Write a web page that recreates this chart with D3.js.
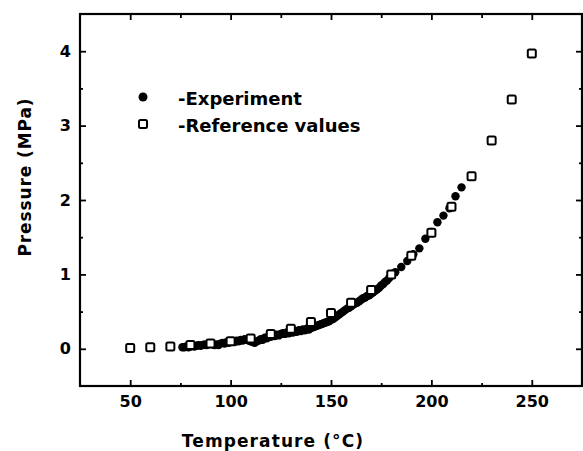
<!DOCTYPE html>
<html>
<head>
<meta charset="utf-8">
<script src="https://cdn.jsdelivr.net/npm/d3@7"></script>
<style>
  html, body { margin: 0; padding: 0; background: #fff; }
  svg { display: block; }
  text { font-family: "DejaVu Sans", sans-serif; font-weight: bold; fill: #000; }
</style>
</head>
<body>
<svg id="chart" width="583" height="451"></svg>
<script>
// ---- data ----
const refTemps = [50, 60, 70, 80, 90, 100, 110, 120, 130, 140, 150, 160, 170, 180, 190, 200, 210, 220, 230, 240, 250];
const refPressures = [0.01, 0.02, 0.03, 0.05, 0.07, 0.10, 0.14, 0.20, 0.27, 0.36, 0.48, 0.62, 0.79, 1.00, 1.25, 1.56, 1.91, 2.32, 2.80, 3.35, 3.97];

const expTemps = [76, 77, 78, 79, 80, 81, 82, 83, 84, 85, 86, 87, 88, 89, 90, 91, 92, 93, 94, 95, 96, 97, 98, 99,
  100, 101, 102, 103, 104, 105, 106, 107, 108, 109, 110, 111, 112, 113, 114, 115, 116, 117, 118, 119,
  120, 121, 122, 123, 124, 125, 126, 127, 128, 129, 130, 131, 132, 133, 134, 135, 136, 137, 138, 139,
  140, 141, 142, 143, 144, 145, 146, 147, 148, 149, 150, 151, 152, 153, 154, 155, 156, 157, 158, 159,
  160, 161, 162, 163, 164, 165, 166, 167, 168, 169, 170, 171, 172, 173, 174, 175, 176, 177, 178, 179,
  182, 185, 188, 191, 194, 197, 200, 203, 206, 209, 212, 215];
const expPressures = [0.02, 0.02, 0.03, 0.02, 0.03, 0.04, 0.03, 0.04, 0.05, 0.04, 0.05, 0.06, 0.05, 0.06, 0.07, 0.06, 0.05, 0.06, 0.05, 0.07, 0.08, 0.07, 0.09, 0.08,
  0.09, 0.10, 0.09, 0.11, 0.10, 0.12, 0.11, 0.13, 0.12, 0.11, 0.10, 0.09, 0.08, 0.10, 0.11, 0.13, 0.12, 0.15, 0.14, 0.17,
  0.16, 0.18, 0.17, 0.19, 0.18, 0.20, 0.21, 0.20, 0.22, 0.21, 0.23, 0.22, 0.24, 0.23, 0.25, 0.24, 0.26, 0.25, 0.27, 0.26,
  0.28, 0.29, 0.30, 0.31, 0.32, 0.33, 0.34, 0.35, 0.36, 0.37, 0.39, 0.40, 0.42, 0.44, 0.46, 0.48, 0.50, 0.52, 0.54, 0.55,
  0.57, 0.59, 0.61, 0.62, 0.64, 0.66, 0.68, 0.69, 0.71, 0.72, 0.74, 0.76, 0.78, 0.80, 0.82, 0.85, 0.87, 0.90, 0.92, 0.95,
  1.03, 1.10, 1.18, 1.27, 1.35, 1.48, 1.57, 1.70, 1.79, 1.89, 2.05, 2.17];

const xMajorTicks = [50, 100, 150, 200, 250];
const xMinorTicks = [75, 125, 175, 225];
const yMajorTicks = [0, 1, 2, 3, 4];
const yMinorTicks = [0.5, 1.5, 2.5, 3.5];

const legendLabels = ["-Experiment", "-Reference values"];
const xTitle = "Temperature (°C)";
const yTitle = "Pressure (MPa)";

// ---- layout ----
const L = 80, R = 582, T = 14, B = 386;
const svg = d3.select("#chart");

const x = d3.scaleLinear().domain([25, 275]).range([L, R]);
const y = d3.scaleLinear().domain([-0.5, 4.5]).range([B, T]);

function styleAxis(g) {
  g.select(".domain").remove();
  g.selectAll(".tick line").attr("stroke", "#000").attr("stroke-width", 1.8);
  g.selectAll(".tick text").style("font-size", "16px").style("font-family", "DejaVu Sans, sans-serif").style("font-weight", "bold").attr("fill", "#000");
}

// bottom
svg.append("g").attr("transform", `translate(0,${B})`)
  .call(d3.axisBottom(x).tickValues(xMajorTicks).tickSize(-6).tickPadding(10).tickFormat(d3.format("d")))
  .call(styleAxis);
svg.append("g").attr("transform", `translate(0,${B})`)
  .call(d3.axisBottom(x).tickValues(xMinorTicks).tickSize(-3).tickFormat(""))
  .call(styleAxis);
// top
svg.append("g").attr("transform", `translate(0,${T})`)
  .call(d3.axisTop(x).tickValues(xMajorTicks).tickSize(-6).tickFormat(""))
  .call(styleAxis);
svg.append("g").attr("transform", `translate(0,${T})`)
  .call(d3.axisTop(x).tickValues(xMinorTicks).tickSize(-4).tickFormat(""))
  .call(styleAxis);
// left
svg.append("g").attr("transform", `translate(${L},0)`)
  .call(d3.axisLeft(y).tickValues(yMajorTicks).tickSize(-6).tickPadding(9).tickFormat(d3.format("d")))
  .call(styleAxis);
svg.append("g").attr("transform", `translate(${L},0)`)
  .call(d3.axisLeft(y).tickValues(yMinorTicks).tickSize(-3).tickFormat(""))
  .call(styleAxis);
// right
svg.append("g").attr("transform", `translate(${R},0)`)
  .call(d3.axisRight(y).tickValues(yMajorTicks).tickSize(-6).tickFormat(""))
  .call(styleAxis);
svg.append("g").attr("transform", `translate(${R},0)`)
  .call(d3.axisRight(y).tickValues(yMinorTicks).tickSize(-3).tickFormat(""))
  .call(styleAxis);

// frame
svg.append("rect")
  .attr("x", L).attr("y", T).attr("width", R - L).attr("height", B - T)
  .attr("fill", "none").attr("stroke", "#000").attr("stroke-width", 2.2);

// experiment points
const expData = expTemps.map((t, i) => ({ t, p: expPressures[i] }));
svg.append("g").selectAll("circle").data(expData).join("circle")
  .attr("cx", d => x(d.t)).attr("cy", d => y(d.p)).attr("r", 4.2).attr("fill", "#000");

// reference points
const refData = refTemps.map((t, i) => ({ t, p: refPressures[i] }));
const sq = 8;
svg.append("g").selectAll("rect").data(refData).join("rect")
  .attr("x", d => x(d.t) - sq / 2).attr("y", d => y(d.p) - sq / 2)
  .attr("width", sq).attr("height", sq).attr("rx", 1.5)
  .attr("fill", "#fff").attr("stroke", "#000").attr("stroke-width", 2);

// legend
const lg = svg.append("g");
lg.append("circle").attr("cx", 143).attr("cy", 97).attr("r", 4.5).attr("fill", "#000");
lg.append("rect").attr("x", 143 - sq / 2).attr("y", 124 - sq / 2).attr("width", sq).attr("height", sq).attr("rx", 1.5)
  .attr("fill", "#fff").attr("stroke", "#000").attr("stroke-width", 2);
lg.selectAll("text").data(legendLabels).join("text")
  .attr("x", 178).attr("y", (d, i) => [105, 132][i])
  .style("font-size", "18px")
  .text(d => d);

// axis titles
svg.append("text")
  .attr("x", 273).attr("y", 447)
  .attr("text-anchor", "middle")
  .style("font-size", "17px").style("letter-spacing", "1.1px")
  .text(xTitle);
svg.append("text")
  .attr("transform", `translate(31,${177}) rotate(-90)`)
  .attr("text-anchor", "middle")
  .style("font-size", "17px").style("letter-spacing", "0.9px")
  .text(yTitle);
</script>
</body>
</html>
